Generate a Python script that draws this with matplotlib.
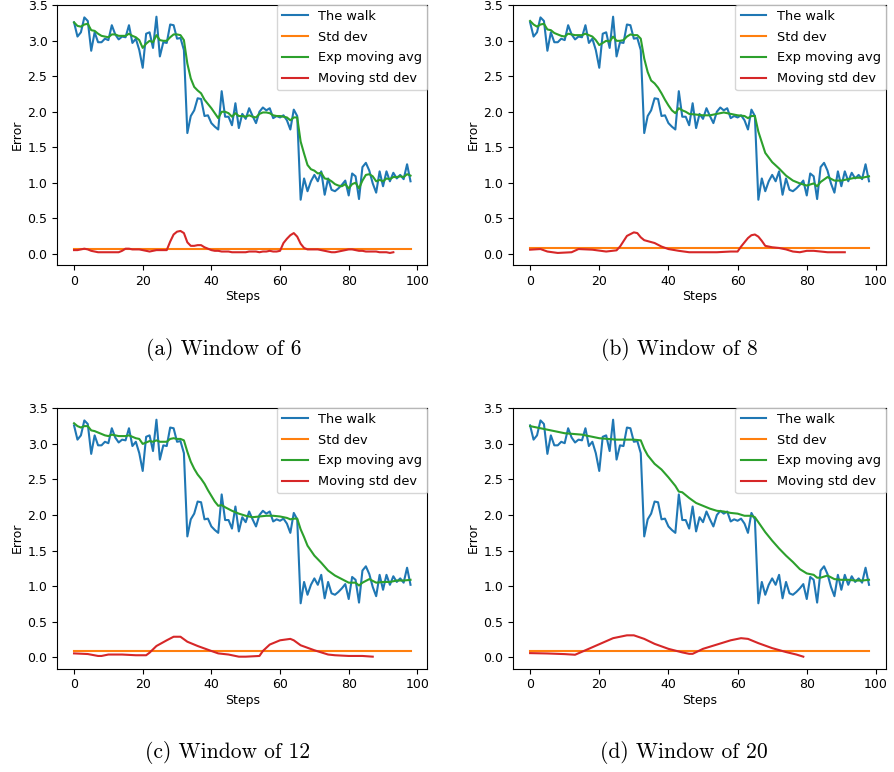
import matplotlib
matplotlib.use("Agg")
import matplotlib.pyplot as plt

# random walk of the error, same for every window size
walk = [3.26, 3.06, 3.12, 3.33, 3.28, 2.86, 3.12, 2.98, 2.98, 3.03,
        3.01, 3.22, 3.09, 3.02, 3.06, 3.05, 3.22, 2.97, 3.03, 2.87,
        2.62, 3.10, 3.12, 2.90, 3.34, 2.78, 2.98, 2.97, 3.23, 3.22,
        3.03, 3.04, 2.87, 1.70, 1.94, 2.02, 2.19, 2.18, 1.94, 1.95,
        1.84, 1.79, 1.75, 2.29, 1.93, 1.93, 1.81, 2.12, 1.77, 1.97,
        1.90, 2.05, 1.94, 1.84, 2.00, 2.06, 2.02, 2.05, 1.91, 1.94,
        1.92, 1.95, 1.88, 1.75, 2.03, 1.94, 0.76, 1.06, 0.88, 1.02,
        1.11, 1.02, 1.16, 0.83, 1.06, 0.90, 0.88, 0.92, 0.97, 1.03,
        0.82, 1.13, 1.09, 0.77, 1.22, 1.28, 1.17, 0.99, 0.86, 1.16,
        0.95, 1.16, 1.02, 1.14, 1.06, 1.11, 1.05, 1.26, 1.02]

windows = [6, 8, 12, 20]
labels = ["a", "b", "c", "d"]
std_dev = [0.07, 0.08, 0.085, 0.085]

# exponential moving average, one (steps, values) pair per window
ema_a_x = list(range(99))
ema_a_y = [3.26, 3.21, 3.20, 3.23, 3.24, 3.15, 3.14, 3.10, 3.07, 3.06,
           3.05, 3.09, 3.09, 3.07, 3.07, 3.07, 3.10, 3.07, 3.05, 3.01,
           2.90, 2.96, 3.00, 2.98, 3.08, 3.01, 3.00, 3.00, 3.05, 3.09,
           3.09, 3.08, 3.01, 2.68, 2.47, 2.35, 2.30, 2.26, 2.17, 2.11,
           2.05, 1.98, 1.91, 2.00, 2.00, 1.98, 1.93, 1.98, 1.94, 1.94,
           1.93, 1.95, 1.93, 1.92, 1.97, 1.99, 1.99, 1.98, 1.95, 1.94,
           1.94, 1.93, 1.92, 1.88, 1.92, 1.92, 1.58, 1.41, 1.25, 1.19,
           1.17, 1.13, 1.14, 1.06, 1.05, 1.02, 0.98, 0.96, 0.95, 0.98,
           0.92, 0.98, 1.00, 0.92, 1.03, 1.11, 1.12, 1.09, 1.02, 1.04,
           1.02, 1.06, 1.05, 1.08, 1.08, 1.09, 1.08, 1.12, 1.10]

ema_b_x = list(range(47)) + [48, 50, 52, 54, 56, 58, 60, 62, 63, 64, 65, 66, 67,
                             68, 70, 72, 74, 76, 78, 80, 82, 83, 84, 86, 88, 90,
                             92, 94, 96, 98]
ema_b_y = [3.28, 3.23, 3.20, 3.23, 3.24, 3.16, 3.15, 3.11, 3.09, 3.07,
           3.06, 3.10, 3.09, 3.08, 3.08, 3.08, 3.10, 3.08, 3.06, 3.01,
           2.94, 2.97, 3.00, 2.99, 3.06, 3.00, 3.00, 3.01, 3.06, 3.09,
           3.08, 3.08, 3.03, 2.75, 2.56, 2.44, 2.40, 2.34, 2.26, 2.17,
           2.09, 2.02, 1.98, 2.05, 2.02, 2.00, 1.97,
           1.96, 1.95, 1.95, 1.97, 1.99, 1.97, 1.95, 1.94, 1.91, 1.94, 1.94,
           1.72, 1.57, 1.42, 1.29, 1.20, 1.10, 1.03, 0.99, 0.96, 0.99, 0.95,
           1.01, 1.08, 1.03, 1.03, 1.05, 1.07, 1.07, 1.09]

ema_c_x = list(range(45)) + [46, 48, 50, 52, 54, 56, 58, 60, 62, 63, 64, 65, 66,
                             67, 68, 70, 72, 74, 76, 78, 80, 82, 83, 84, 86, 88,
                             90, 92, 94, 96, 98]
ema_c_y = [3.29, 3.25, 3.23, 3.25, 3.25, 3.19, 3.18, 3.16, 3.14, 3.12,
           3.11, 3.13, 3.12, 3.11, 3.11, 3.11, 3.12, 3.10, 3.08, 3.07,
           3.00, 3.02, 3.04, 3.03, 3.05, 3.03, 3.03, 3.03, 3.07, 3.08,
           3.07, 3.07, 3.05, 2.89, 2.75, 2.65, 2.57, 2.51, 2.44, 2.35,
           2.27, 2.19, 2.13, 2.14, 2.11,
           2.06, 2.02, 1.99, 1.97, 1.98, 1.99, 1.99, 1.98, 1.96, 1.94, 1.95,
           1.95, 1.80, 1.69, 1.57, 1.43, 1.33, 1.22, 1.15, 1.10, 1.05, 1.05,
           1.01, 1.05, 1.10, 1.05, 1.06, 1.06, 1.08, 1.08, 1.09]

ema_d_x = [0, 5, 10, 15, 20, 25, 30, 32, 33, 34, 36, 38, 40, 42, 43, 44, 46, 48,
           50, 52, 54, 56, 58, 60, 62, 64, 65, 66, 68, 70, 72, 74, 76, 78, 80,
           82, 83, 84, 86, 88, 90, 92, 94, 96, 98]
ema_d_y = [3.25, 3.20, 3.15, 3.13, 3.08, 3.06, 3.06, 3.05, 2.93, 2.84, 2.72,
           2.64, 2.53, 2.41, 2.33, 2.32, 2.24, 2.17, 2.13, 2.09, 2.06, 2.05,
           2.03, 2.02, 1.99, 1.99, 1.97, 1.90, 1.76, 1.64, 1.53, 1.43, 1.34,
           1.24, 1.18, 1.16, 1.12, 1.12, 1.15, 1.10, 1.09, 1.09, 1.08, 1.08,
           1.09]

# moving standard deviation over the window
mstd_a_x = list(range(94))
mstd_a_y = [0.05, 0.05, 0.06, 0.07, 0.06, 0.04, 0.03, 0.02, 0.02, 0.02,
            0.02, 0.02, 0.02, 0.02, 0.04, 0.07, 0.07, 0.06, 0.06, 0.06,
            0.05, 0.04, 0.03, 0.04, 0.05, 0.05, 0.05, 0.05, 0.17, 0.27,
            0.31, 0.32, 0.29, 0.16, 0.11, 0.11, 0.12, 0.12, 0.09, 0.07,
            0.05, 0.04, 0.04, 0.03, 0.03, 0.03, 0.02, 0.02, 0.02, 0.02,
            0.02, 0.03, 0.03, 0.03, 0.02, 0.03, 0.03, 0.04, 0.03, 0.03,
            0.04, 0.15, 0.21, 0.26, 0.29, 0.24, 0.14, 0.08, 0.06, 0.06,
            0.06, 0.06, 0.05, 0.04, 0.03, 0.02, 0.02, 0.03, 0.04, 0.05,
            0.06, 0.06, 0.05, 0.04, 0.04, 0.03, 0.03, 0.03, 0.03, 0.02,
            0.02, 0.02, 0.01, 0.02]

mstd_b_x = [0, 3, 5, 8, 12, 14, 18, 22, 25, 26, 28, 30, 31, 32, 33, 36, 38, 40,
            43, 46, 50, 54, 58, 60, 61, 63, 64, 65, 66, 67, 68, 70, 72, 74, 76,
            78, 80, 82, 84, 86, 88, 91]
mstd_b_y = [0.056, 0.065, 0.03, 0.01, 0.02, 0.065, 0.056, 0.03, 0.047, 0.10,
            0.25, 0.30, 0.29, 0.23, 0.19, 0.15, 0.10, 0.065, 0.04, 0.02, 0.02,
            0.02, 0.03, 0.03, 0.10, 0.22, 0.26, 0.27, 0.24, 0.18, 0.11, 0.09,
            0.08, 0.06, 0.03, 0.02, 0.04, 0.04, 0.03, 0.02, 0.02, 0.02]

mstd_c_x = [0, 4, 7, 8, 10, 14, 18, 21, 22, 24, 27, 29, 31, 33, 36, 40, 42, 45,
            48, 50, 54, 55, 57, 60, 63, 64, 66, 70, 74, 76, 80, 84, 87]
mstd_c_y = [0.056, 0.047, 0.02, 0.02, 0.04, 0.04, 0.03, 0.03, 0.066, 0.16,
            0.24, 0.29, 0.29, 0.22, 0.16, 0.09, 0.056, 0.04, 0.01, 0.01, 0.02,
            0.09, 0.18, 0.24, 0.26, 0.24, 0.17, 0.10, 0.04, 0.03, 0.02, 0.02,
            0.01]

mstd_d_x = [0, 5, 10, 13, 16, 20, 24, 28, 30, 33, 36, 40, 44, 46, 47, 50, 54,
            58, 61, 63, 66, 70, 74, 77, 79]
mstd_d_y = [0.06, 0.055, 0.046, 0.037, 0.10, 0.185, 0.27, 0.31, 0.31, 0.26,
            0.19, 0.12, 0.07, 0.05, 0.05, 0.12, 0.18, 0.24, 0.27, 0.26, 0.20,
            0.13, 0.075, 0.04, 0.01]

ema = [(ema_a_x, ema_a_y), (ema_b_x, ema_b_y), (ema_c_x, ema_c_y), (ema_d_x, ema_d_y)]
mstd = [(mstd_a_x, mstd_a_y), (mstd_b_x, mstd_b_y), (mstd_c_x, mstd_c_y), (mstd_d_x, mstd_d_y)]

plt.rcParams["font.size"] = 9
fig = plt.figure(figsize=(8.94, 7.72), dpi=100)

# axes boxes in figure fractions: left, bottom, width, height
boxes = [(0.064, 0.657, 0.414, 0.337),
         (0.574, 0.657, 0.417, 0.337),
         (0.064, 0.134, 0.414, 0.338),
         (0.574, 0.134, 0.417, 0.338)]
caption_pos = [(0.25, 0.540), (0.76, 0.540), (0.254, 0.018), (0.765, 0.018)]

steps = list(range(len(walk)))
for i in range(4):
    ax = fig.add_axes(boxes[i])
    ax.plot(steps, walk, color="C0", lw=1.5, label="The walk")
    ax.plot([steps[0], steps[-1]], [std_dev[i], std_dev[i]], color="C1", lw=1.5, label="Std dev")
    ax.plot(ema[i][0], ema[i][1], color="C2", lw=1.5, label="Exp moving avg")
    ax.plot(mstd[i][0], mstd[i][1], color="C3", lw=1.5, label="Moving std dev")
    ax.set_xlim(-4.9, 102.9)
    ax.set_ylim(-0.157, 3.51)
    ax.set_xlabel("Steps", labelpad=2)
    ax.set_ylabel("Error", labelpad=3)
    ax.legend(loc="upper right", borderaxespad=0, fontsize=9.3, labelspacing=0.6)
    fig.text(caption_pos[i][0], caption_pos[i][1],
             "(%s) Window of %d" % (labels[i], windows[i]),
             family="cmr10", fontsize=15.5, ha="center")

plt.savefig("out.png", dpi=100)
